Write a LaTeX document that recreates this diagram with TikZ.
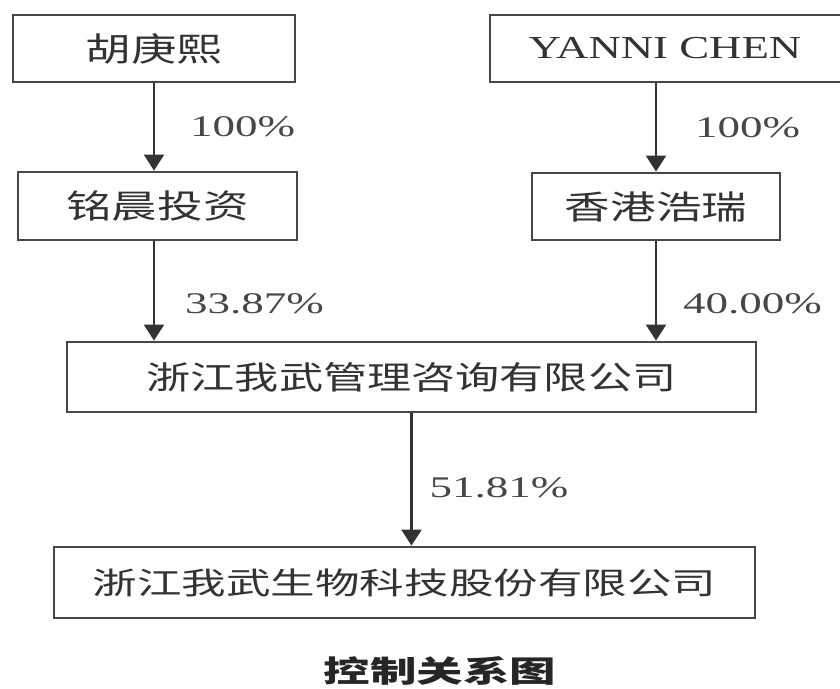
\documentclass[tikz,border=0pt]{standalone}
\usepackage{fontspec}
\setmainfont{Liberation Serif}[FakeStretch=1.4]
\newfontfamily\numfont{Liberation Serif}[FakeStretch=1.5]
\newfontfamily\cjk{Noto Sans CJK SC}[FakeStretch=1.38]
\newfontfamily\cjkwide{Noto Sans CJK SC}[FakeStretch=1.46]
\newfontfamily\cjktitle{Noto Sans CJK SC}[FakeStretch=1.55]
\usepackage{tikz}
\usetikzlibrary{arrows.meta}

\begin{document}
\begin{tikzpicture}[x=1pt,y=-1pt,
			holder/.style={draw=black!72, line width=2.8pt, inner sep=0pt, text=black!80},
			share/.style={-{Triangle[width=20pt,length=16pt]}, draw=black!80, line width=2.2pt},
			pct/.style={anchor=west, inner sep=0pt, text=black!72, font=\numfont\fontsize{30}{33}\selectfont}
		]
		\useasboundingbox (0,0) rectangle (840,688);

		\node[holder, minimum width=282pt, minimum height=67pt, font=\cjk\fontsize{33}{36}\selectfont] (hu) at (154,48.5) {胡庚熙};
		\node[holder, minimum width=360pt, minimum height=67pt, font=\fontsize{32}{35}\selectfont] (yanni) at (670,48.5) {\hspace*{-10pt}YANNI CHEN};

		\node[holder, minimum width=279pt, minimum height=68pt, font=\cjk\fontsize{33}{36}\selectfont] (mingchen) at (157.5,206) {铭晨投资};
		\node[holder, minimum width=248pt, minimum height=67pt, font=\cjk\fontsize{33}{36}\selectfont] (haorui) at (656,206.5) {香港浩瑞};

		\node[holder, minimum width=689pt, minimum height=70pt, font=\cjk\fontsize{32}{35}\selectfont] (guanli) at (411.5,377) {浙江我武管理咨询有限公司};

		\node[holder, minimum width=701pt, minimum height=71pt, font=\cjkwide\fontsize{30.5}{34}\selectfont] (wowu) at (404.5,582.5) {浙江我武生物科技股份有限公司};

		\node[inner sep=0pt, text=black!85, font=\cjktitle\bfseries\fontsize{30}{33}\selectfont] (title) at (440,671) {控制关系图};

		\draw[share] (hu.south) -- (hu.south |- mingchen.north)
			node[pct, pos=0.5, xshift=35pt] (p1) {100\%};
		\draw[share] (mingchen.south -| hu.south) -- (hu.south |- guanli.north)
			node[pct, pos=0.63, xshift=30pt] (p2) {33.87\%};
		\draw[share] (haorui.north |- yanni.south) -- (haorui.north)
			node[pct, pos=0.5, xshift=38pt] (p3) {100\%};
		\draw[share] (haorui.south) -- (haorui.south |- guanli.north)
			node[pct, pos=0.63, xshift=26pt] (p4) {40.00\%};
		\draw[share] (guanli.south) -- (guanli.south |- wowu.north)
			node[pct, pos=0.56, xshift=17pt] (p5) {51.81\%};
	\end{tikzpicture}
\end{document}
